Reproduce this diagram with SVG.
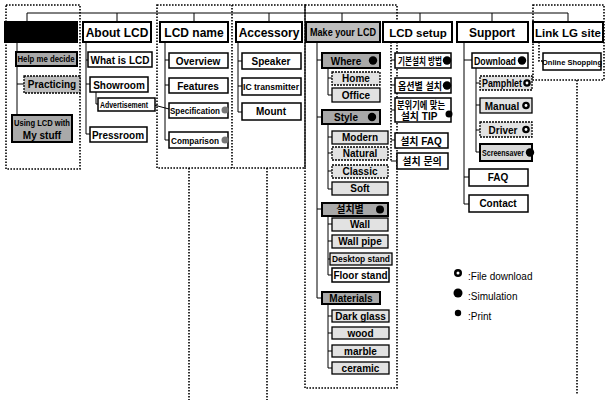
<svg xmlns="http://www.w3.org/2000/svg" width="605" height="401" viewBox="0 0 605 401">
<style>
.top{fill:#fff;stroke:#000;stroke-width:2}
.blk{fill:#000;stroke:#000;stroke-width:2}
.bx{fill:#fff;stroke:#000;stroke-width:1.5}
.gr{fill:#a9a9a9;stroke:#000;stroke-width:2}
.lt{fill:#e2e2e2;stroke:#000;stroke-width:1.3}
.ltd{fill:#e2e2e2;stroke:#000;stroke-width:1.3;stroke-dasharray:2 1}
.grp{fill:none;stroke:#000;stroke-width:1.6;stroke-dasharray:1.6 1.4}
.dl{fill:none;stroke:#000;stroke-width:1.6;stroke-dasharray:1.6 1.4}
.ln{fill:none;stroke:#000;stroke-width:1}
text{font-family:"Liberation Sans",Arial,"Noto Sans CJK KR",sans-serif;font-weight:bold;text-anchor:middle;fill:#000}
.tt{font-size:12px}
.c{font-size:10px}
.s{font-size:9px}
.lg{font-size:10px;font-weight:normal;text-anchor:start}
.ic{fill:#000}
.icg{fill:#777}
</style>
<defs>
<marker id="ah" viewBox="0 0 10 10" refX="2" refY="5" markerWidth="5" markerHeight="5" orient="auto-start-reverse">
<path d="M10,0 L0,5 L10,10 z" fill="#000"/>
</marker>
</defs>

<!-- group borders -->
<g id="groups">
<rect class="grp" x="6" y="5" width="74" height="164"/>
<rect class="grp" x="157" y="5" width="148" height="163"/>
<line class="dl" x1="232" y1="5" x2="232" y2="168"/>
<rect class="grp" x="305" y="5" width="92" height="383"/>
<rect class="grp" x="533" y="5" width="71" height="75"/>
<line class="dl" x1="189" y1="168" x2="189" y2="400"/>
<line class="dl" x1="267" y1="168" x2="267" y2="400"/>
<line class="dl" x1="577" y1="80" x2="577" y2="395"/>
</g>

<!-- connectors -->
<g id="connectors">
<path class="ln" d="M27,13 H568 M27,13 V22 M117,13 V22 M194,13 V22 M269,13 V22 M342,13 V22 M420,13 V22 M492,13 V22 M568,13 V22"/>
<path class="ln" d="M17,42 V118 M17,84 H24"/>
<path class="ln" d="M86,42 V134 M86,60 H88 M86,84 H90 M86,134 H90 M96,92 V104 H98"/>
<path class="ln" d="M165,42 V140 M165,60 H169 M165,85 H169 M165,140 H169"/>
<line class="ln" x1="169" y1="109" x2="154" y2="105" marker-end="url(#ah)"/>
<path class="ln" d="M238,42 V112 M238,61 H242 M238,86 H242 M238,112 H242"/>
<path class="ln" d="M317,42 V298 M317,60 H322 M317,117 H322 M317,209 H322 M317,298 H322"/>
<path class="ln" d="M328,68 V95 M328,78 H332 M328,95 H332"/>
<path class="ln" d="M328,124 V189 M328,137 H332 M328,153 H332 M328,171 H332 M328,189 H332"/>
<path class="ln" d="M328,216 V275 M328,224 H332 M328,241 H332 M328,259 H330 M328,275 H332"/>
<path class="ln" d="M328,304 V368 M328,316 H332 M328,333 H332 M328,351 H332 M328,368 H332"/>
<path class="dl" d="M391,42 V161"/>
<path class="ln" d="M391,60 H395 M391,85 H395 M391,110 H395 M391,140 H395 M391,161 H397"/>
<path class="ln" d="M464,42 V204 M464,60 H472 M464,177 H469 M464,204 H469"/>
<path class="ln" d="M476,68 V152 M476,83 H480 M476,105 H480 M476,130 H480 M476,152 H480"/>
<path class="dl" d="M539,42 V61 H543"/>
</g>

<!-- column 1 -->
<g id="n-home"><rect class="blk" x="5" y="22" width="72" height="20"/></g>
<g id="n-help"><rect class="gr" x="16" y="52" width="61" height="14"/><text class="s" x="46" y="62" textLength="57" lengthAdjust="spacingAndGlyphs">Help me decide</text></g>
<g id="n-practicing"><rect class="ltd" x="24" y="76" width="56" height="17" style="fill:#bdbdbd"/><text class="c" x="52" y="88">Practicing</text></g>
<g id="n-using"><rect class="gr" x="12" y="115" width="60" height="27"/><text class="s" x="42" y="126" textLength="56" lengthAdjust="spacingAndGlyphs">Using LCD with</text><text class="c" x="42" y="138.5">My stuff</text></g>

<!-- column 2 -->
<g id="n-about"><rect class="top" x="83" y="22" width="68" height="20"/><text class="tt" x="117" y="36.5">About LCD</text></g>
<g id="n-what"><rect class="bx" x="88" y="52" width="64" height="15"/><text class="c" x="120" y="63.5">What is LCD</text></g>
<g id="n-showroom"><rect class="bx" x="90" y="77" width="58" height="15"/><text class="c" x="119" y="88.5">Showroom</text></g>
<g id="n-adv"><rect class="bx" x="98" y="98" width="57" height="13"/><text class="s" x="124" y="108" textLength="48" lengthAdjust="spacingAndGlyphs">Advertisement</text></g>
<g id="n-press"><rect class="bx" x="90" y="127" width="57" height="15"/><text class="c" x="118" y="138.5">Pressroom</text></g>

<!-- column 3 -->
<g id="n-lcdname"><rect class="top" x="160" y="22" width="68" height="20"/><text class="tt" x="194" y="36.5">LCD name</text></g>
<g id="n-overview"><rect class="bx" x="169" y="53" width="59" height="15"/><text class="c" x="198" y="64.5">Overview</text></g>
<g id="n-features"><rect class="bx" x="169" y="78" width="59" height="15"/><text class="c" x="198" y="89.5">Features</text></g>
<g id="n-spec"><rect class="bx" x="169" y="103" width="59" height="15"/><text class="s" x="195" y="114" textLength="50" lengthAdjust="spacingAndGlyphs">Specification</text><circle class="icg" cx="225" cy="110" r="3.5"/></g>
<g id="n-comp"><rect class="bx" x="169" y="132" width="59" height="16"/><text class="s" x="195" y="143.5" textLength="48" lengthAdjust="spacingAndGlyphs">Comparison</text><circle class="icg" cx="225" cy="140" r="3.5"/></g>

<!-- column 4 -->
<g id="n-accessory"><rect class="top" x="236" y="22" width="66" height="20"/><text class="tt" x="269" y="36.5">Accessory</text></g>
<g id="n-speaker"><rect class="bx" x="242" y="53" width="59" height="16"/><text class="c" x="271" y="65">Speaker</text></g>
<g id="n-ic"><rect class="bx" x="242" y="78" width="59" height="17"/><text class="s" x="271" y="89.5" textLength="56" lengthAdjust="spacingAndGlyphs">IC transmitter</text></g>
<g id="n-mount"><rect class="bx" x="242" y="103" width="59" height="17"/><text class="c" x="271" y="115">Mount</text></g>

<!-- column 5 -->
<g id="n-make"><rect class="gr" x="306" y="22" width="74" height="20" style="fill:#bdbdbd"/><text x="343" y="36" style="font-size:10.5px" textLength="66" lengthAdjust="spacingAndGlyphs">Make your LCD</text></g>
<g id="n-where"><rect class="gr" x="322" y="53" width="58" height="15"/><text class="c" x="346" y="64.5">Where</text><circle class="ic" cx="373" cy="60.5" r="4.2"/></g>
<g id="n-homeb"><rect class="ltd" x="332" y="72" width="48" height="13"/><text class="c" x="356" y="82">Home</text></g>
<g id="n-office"><rect class="lt" x="332" y="88" width="48" height="14"/><text class="c" x="356" y="98.5">Office</text></g>
<g id="n-style"><rect class="gr" x="322" y="110" width="58" height="14"/><text class="c" x="346" y="120.5">Style</text><circle class="ic" cx="372" cy="117" r="4.2"/></g>
<g id="n-modern"><rect class="lt" x="332" y="131" width="56" height="13"/><text class="c" x="360" y="141">Modern</text></g>
<g id="n-natural"><rect class="ltd" x="332" y="147" width="56" height="13"/><text class="c" x="360" y="157">Natural</text></g>
<g id="n-classic"><rect class="ltd" x="332" y="165" width="56" height="13"/><text class="c" x="360" y="175">Classic</text></g>
<g id="n-soft"><rect class="lt" x="332" y="182" width="56" height="13"/><text class="c" x="360" y="192">Soft</text></g>
<g id="n-install"><rect class="gr" x="322" y="203" width="66" height="13"/><text class="c" x="350" y="213">설치별</text><circle class="ic" cx="380" cy="209.5" r="4"/></g>
<g id="n-wall"><rect class="lt" x="332" y="218" width="56" height="13"/><text class="c" x="360" y="228">Wall</text></g>
<g id="n-wallpipe"><rect class="lt" x="332" y="235" width="56" height="13"/><text class="c" x="360" y="245">Wall pipe</text></g>
<g id="n-desk"><rect class="lt" x="330" y="253" width="62" height="12"/><text class="s" x="361" y="262.3" textLength="58" lengthAdjust="spacingAndGlyphs">Desktop stand</text></g>
<g id="n-floor"><rect class="bx" x="332" y="268" width="57" height="14"/><text class="c" x="360.5" y="278.5" textLength="54" lengthAdjust="spacingAndGlyphs">Floor stand</text></g>
<g id="n-materials"><rect class="gr" x="322" y="292" width="58" height="12"/><text class="c" x="351" y="301.5">Materials</text></g>
<g id="n-dark"><rect class="lt" x="332" y="310" width="57" height="12"/><text class="c" x="360.5" y="319.5">Dark glass</text></g>
<g id="n-wood"><rect class="lt" x="332" y="327" width="57" height="12"/><text class="c" x="360.5" y="336.5">wood</text></g>
<g id="n-marble"><rect class="lt" x="332" y="345" width="57" height="12"/><text class="c" x="360.5" y="354.5">marble</text></g>
<g id="n-ceramic"><rect class="lt" x="332" y="362" width="57" height="12"/><text class="c" x="360.5" y="371.5">ceramic</text></g>

<!-- column 6 -->
<g id="n-setup"><rect class="top" x="383" y="22" width="69" height="20"/><text x="418" y="36.5" style="font-size:11.5px">LCD setup</text></g>
<g id="n-s1"><rect class="bx" x="395" y="53" width="56" height="15"/><text class="c" x="420" y="64.5" textLength="44" lengthAdjust="spacingAndGlyphs">기본설치 방법</text><circle class="ic" cx="447" cy="60.5" r="4.2"/></g>
<g id="n-s2"><rect class="bx" x="395" y="78" width="56" height="15"/><text class="c" x="420" y="89.5" textLength="44" lengthAdjust="spacingAndGlyphs">옵션별 설치</text><circle class="ic" cx="447" cy="85.5" r="4.2"/></g>
<g id="n-s3"><rect class="bx" x="395" y="98" width="56" height="24"/><text class="c" x="421" y="108.5" textLength="48" lengthAdjust="spacingAndGlyphs">분위기에 맞는</text><text class="c" x="419" y="119.5">설치 TIP</text><circle class="ic" cx="449" cy="114" r="3.5"/></g>
<g id="n-s4"><rect class="bx" x="395" y="133" width="53" height="15"/><text class="c" x="421" y="144.5">설치 FAQ</text></g>
<g id="n-s5"><rect class="bx" x="397" y="153" width="51" height="16"/><text class="c" x="422" y="165">설치 문의</text></g>

<!-- column 7 -->
<g id="n-support"><rect class="top" x="457" y="22" width="71" height="20"/><text class="tt" x="492" y="36.5">Support</text></g>
<g id="n-download"><rect class="bx" x="472" y="53" width="56" height="15"/><text class="c" x="495" y="64.5" textLength="42" lengthAdjust="spacingAndGlyphs">Download</text><circle class="ic" cx="522" cy="60.5" r="4.2"/></g>
<g id="n-pamphlet"><rect class="ltd" x="480" y="76" width="52" height="14"/><text class="c" x="502" y="86.5" textLength="40" lengthAdjust="spacingAndGlyphs">Pamphlet</text><circle class="ic" cx="527" cy="83" r="3.8"/><circle cx="527" cy="83" r="1.4" fill="#fff"/></g>
<g id="n-manual"><rect class="lt" x="480" y="98" width="52" height="15"/><text class="c" x="502" y="109.5">Manual</text><circle class="ic" cx="526" cy="105.5" r="3.8"/><circle cx="526" cy="105.5" r="1.4" fill="#fff"/></g>
<g id="n-driver"><rect class="ltd" x="480" y="122" width="52" height="15"/><text class="c" x="503" y="133.5">Driver</text><circle class="ic" cx="526" cy="129.5" r="3.8"/><circle cx="526" cy="129.5" r="1.4" fill="#fff"/></g>
<g id="n-screensaver"><rect class="gr" x="480" y="144" width="52" height="17" style="fill:#d8d8d8"/><text class="s" x="503" y="156" textLength="42" lengthAdjust="spacingAndGlyphs">Screensaver</text><circle class="ic" cx="530" cy="152.5" r="4.2"/></g>
<g id="n-faq"><rect class="bx" x="469" y="169" width="59" height="17"/><text class="c" x="498" y="181">FAQ</text></g>
<g id="n-contact"><rect class="bx" x="469" y="195" width="59" height="17"/><text class="c" x="498" y="207">Contact</text></g>

<!-- column 8 -->
<g id="n-link"><rect class="top" x="533" y="22" width="70" height="20"/><text class="tt" x="568" y="36.5" style="font-size:11.5px">Link LG site</text></g>
<g id="n-shop"><rect class="bx" x="543" y="53" width="58" height="17"/><text x="572" y="64.5" style="font-size:7.5px">Online Shopping</text></g>

<!-- legend -->
<g id="legend">
<circle class="ic" cx="458" cy="273" r="4"/><circle cx="458" cy="273" r="1.5" fill="#fff"/>
<text class="lg" x="468" y="280">:File download</text>
<circle class="ic" cx="458" cy="293" r="4.5"/>
<text class="lg" x="468" y="300">:Simulation</text>
<circle class="ic" cx="458" cy="313" r="3.2"/>
<text class="lg" x="468" y="320">:Print</text>
</g>
</svg>
